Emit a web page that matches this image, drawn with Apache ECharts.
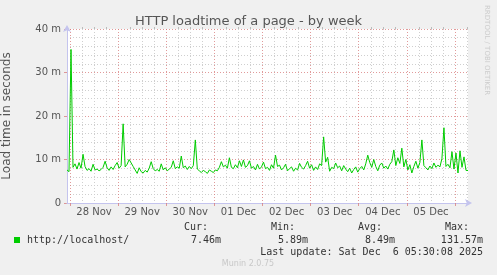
<!DOCTYPE html>
<html>
<head>
<meta charset="utf-8">
<script src="https://cdn.jsdelivr.net/npm/echarts@6/dist/echarts.min.js"></script>
<style>
html,body{margin:0;padding:0;background:#f0f0f0;}
#chart{width:497px;height:275px;}
</style>
</head>
<body>
<div id="chart"></div>
<script>
// ---- data ----
const titleText = 'HTTP loadtime of a page - by week';
const yAxisTitle = 'Load time in seconds';
const seriesName = 'http://localhost/';
// hourly samples starting 27 Nov 2025 22:30 (UTC), values in milliseconds ("m")
const startTime = Date.UTC(2025, 10, 27, 22, 30);
const endTime = Date.UTC(2025, 11, 6, 6, 30);
const loadTimes = [
 7.6,7.2,35.3,8.2,9.0,7.8,9.3,8.0,11.2,8.4,7.5,7.9,7.3,8.9,7.6,7.8,7.4,7.7,8.2,9.6,
 8.1,7.5,8.3,7.7,8.6,9.3,8.0,8.6,18.2,8.3,8.9,10.0,9.2,8.4,7.6,6.8,8.1,7.2,6.9,7.5,
 7.1,8.0,9.5,7.9,7.4,7.7,7.3,9.0,7.6,8.1,7.4,7.8,8.2,9.7,7.9,8.3,8.0,10.8,8.1,8.5,
 7.7,8.4,7.9,8.6,14.5,7.8,7.4,7.0,7.5,7.2,6.8,7.6,7.3,7.0,7.6,7.4,8.2,9.5,8.3,8.7,
 8.0,10.4,8.2,7.9,8.8,8.1,9.7,8.4,9.9,8.2,8.6,9.7,8.0,8.4,7.6,8.9,7.8,8.3,9.4,7.9,
 8.2,7.5,8.8,8.0,11.0,8.4,8.7,7.6,8.1,8.9,7.4,7.9,8.3,7.3,8.0,7.6,9.1,8.2,7.8,8.6,
 9.6,8.0,8.8,7.5,8.3,7.7,9.0,8.6,15.2,9.4,10.5,7.3,8.2,7.9,9.2,8.1,8.5,7.4,8.6,7.8,
 7.2,8.0,6.9,7.7,8.3,7.1,7.9,8.4,7.6,9.0,11.0,9.3,8.2,10.0,8.4,7.4,8.7,9.2,8.0,8.5,
 7.8,8.9,9.5,12.2,8.6,10.4,9.1,12.6,8.3,10.0,7.6,8.8,6.9,8.4,9.6,8.0,9.3,14.5,8.6,8.1,
 7.6,8.5,7.9,9.2,8.2,8.7,8.3,10.2,17.3,8.4,8.9,8.1,11.8,7.8,11.5,6.9,12.0,8.2,10.6,7.5,
 7.46
];
const dayLabels = ['28 Nov','29 Nov','30 Nov','01 Dec','02 Dec','03 Dec','04 Dec','05 Dec'];
const firstMidnight = Date.UTC(2025, 10, 28, 0, 0);
const legendHeaders = ['Cur:', 'Min:', 'Avg:', 'Max:'];
const legendValues = ['7.46m', '5.89m', '8.49m', '131.57m'];
const lastUpdate = 'Last update: Sat Dec  6 05:30:08 2025';
const footer = 'Munin 2.0.75';
const sideText = 'RRDTOOL / TOBI OETIKER';

// ---- derived ----
const HOUR = 3600000, DAY = 24 * HOUR;
const seriesData = loadTimes.map((v, i) => [startTime + i * HOUR, v]);
const dayBounds = [], sixHours = [], noons = [];
for (let t = firstMidnight; t <= endTime; t += 6 * HOUR) {
  if ((t - firstMidnight) % DAY === 0) dayBounds.push(t); else sixHours.push(t);
}
dayLabels.forEach((d, i) => noons.push(firstMidnight + i * DAY + 12 * HOUR));

const chart = echarts.init(document.getElementById('chart'));
const axisColor = '#c4c4ee';
const redGrid = 'rgba(215,120,120,0.75)';
const grayGrid = '#cfcfcf';
const mono = '"DejaVu Sans Mono", monospace';

const legendGraphics = [
  { type: 'rect', shape: { x: 14, y: 237, width: 6, height: 6 }, style: { fill: '#00cc00' } },
  { type: 'text', x: 27, y: 240, style: { text: seriesName, font: '10px ' + mono, fill: '#333', verticalAlign: 'middle' } },
  { type: 'text', x: 483, y: 252, style: { text: lastUpdate, font: '10px ' + mono, fill: '#333', align: 'right', verticalAlign: 'middle' } },
  { type: 'text', x: 248, y: 264, style: { text: footer, font: '8px "DejaVu Sans"', fill: '#c8c8c8', align: 'center', verticalAlign: 'middle' } },
  { type: 'text', x: 487, y: 5, rotation: -Math.PI / 2, style: { text: sideText, font: '7px "DejaVu Sans"', fill: '#cccccc', align: 'left', verticalAlign: 'middle' } }
];
const headerRight = [208, 295, 382, 469];
const valueRight = [221, 308, 395, 483];
legendHeaders.forEach((h, i) => legendGraphics.push({ type: 'text', x: headerRight[i], y: 227,
  style: { text: h, font: '10px ' + mono, fill: '#333', align: 'right', verticalAlign: 'middle' } }));
legendValues.forEach((v, i) => legendGraphics.push({ type: 'text', x: valueRight[i], y: 240,
  style: { text: v, font: '10px ' + mono, fill: '#333', align: 'right', verticalAlign: 'middle' } }));

chart.setOption({
  backgroundColor: '#f0f0f0',
  animation: false,
  title: {
    text: titleText, left: 'center', top: 10,
    textStyle: { fontFamily: 'DejaVu Sans', fontSize: 13, fontWeight: 'normal', color: '#555' }
  },
  grid: { left: 67, right: 29, top: 29, bottom: 72, show: true, backgroundColor: '#ffffff', borderWidth: 0,
          containLabel: false, outerBoundsMode: 'none' },
  xAxis: [
    {
      type: 'value', min: startTime, max: endTime,
      axisLine: { show: true, lineStyle: { color: axisColor }, symbol: ['none', 'arrow'], symbolSize: [6, 7], symbolOffset: [0, 4] },
      axisTick: { show: true, customValues: dayBounds, length: 3, lineStyle: { color: redGrid } },
      axisLabel: {
        customValues: noons, margin: 4, color: '#555', fontFamily: 'DejaVu Sans', fontSize: 10,
        formatter: v => dayLabels[Math.round((v - firstMidnight - 12 * HOUR) / DAY)]
      },
      splitLine: { show: true, lineStyle: { color: redGrid, type: [1, 2] } },
      z: 3
    },
    {
      type: 'value', min: startTime, max: endTime,
      axisLine: { show: false },
      axisTick: { show: true, customValues: sixHours, length: 2, lineStyle: { color: '#bbb' } },
      axisLabel: { show: false },
      splitLine: { show: true, lineStyle: { color: grayGrid, type: [1, 2] } },
      z: 2
    }
  ],
  yAxis: {
    type: 'value', min: 0, max: 40, interval: 10,
    name: yAxisTitle, nameLocation: 'middle', nameGap: 54,
    nameTextStyle: { fontFamily: 'DejaVu Sans', fontSize: 12, color: '#555' },
    axisLine: { show: true, lineStyle: { color: axisColor }, symbol: ['none', 'arrow'], symbolSize: [6, 7], symbolOffset: [0, 4] },
    axisTick: { show: true, length: 3, lineStyle: { color: redGrid } },
    minorTick: { show: false, splitNumber: 5 },
    axisLabel: { margin: 6, color: '#555', fontFamily: 'DejaVu Sans', fontSize: 10, formatter: v => v === 0 ? '0' : v + ' m' },
    splitLine: { show: true, lineStyle: { color: redGrid, type: [1, 2] } },
    minorSplitLine: { show: true, lineStyle: { color: grayGrid, type: [1, 2] } }
  },
  series: [{
    type: 'line', name: seriesName, data: seriesData, xAxisIndex: 0,
    showSymbol: false, symbol: 'none',
    lineStyle: { color: '#00cc00', width: 1 }, z: 5
  }],
  graphic: legendGraphics
});
</script>
</body>
</html>
